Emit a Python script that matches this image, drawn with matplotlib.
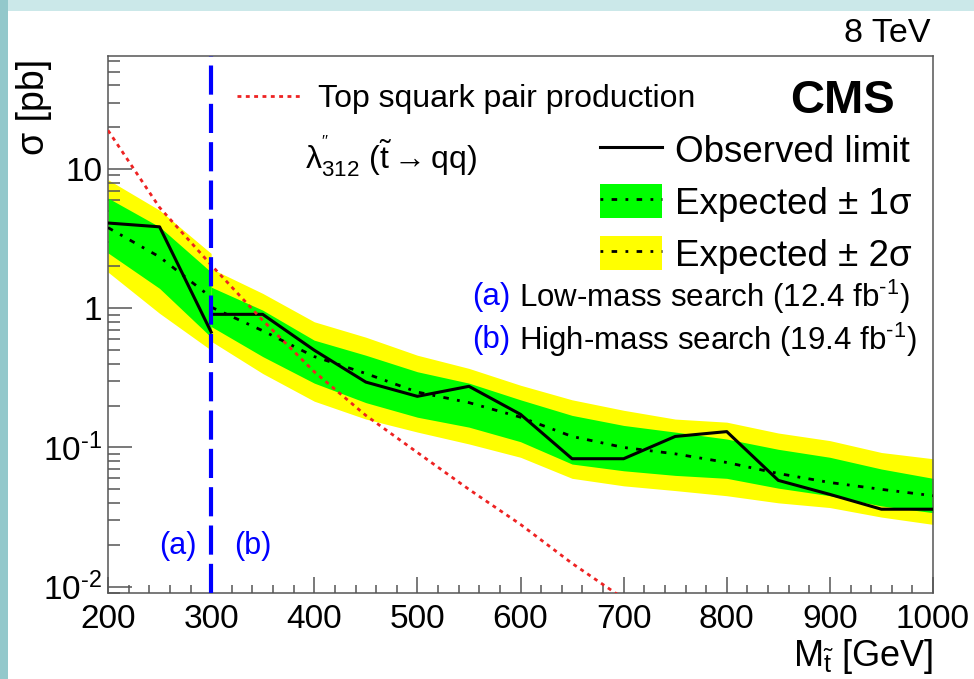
import matplotlib
matplotlib.use("Agg")
import matplotlib.pyplot as plt
from matplotlib.lines import Line2D
from matplotlib.patches import Patch, Rectangle
from matplotlib.ticker import FixedLocator, FixedFormatter, MultipleLocator, LogLocator, NullFormatter

plt.rcParams['font.family'] = ['Liberation Sans', 'DejaVu Sans']
plt.rcParams['mathtext.fontset'] = 'custom'
plt.rcParams['mathtext.rm'] = 'Liberation Sans'
plt.rcParams['mathtext.it'] = 'Liberation Sans:italic'
plt.rcParams['mathtext.bf'] = 'Liberation Sans:bold'

# ---------------- data ----------------
cut_mass = 300

mass_low = [200, 250, 300]
obs_low = [4.1, 3.85, 0.675]
exp_low = [3.8, 2.34, 1.2]
exp2_up_low = [8.4, 5.07, 2.48]
exp1_up_low = [6.2, 3.85, 1.82]
exp1_dn_low = [2.5, 1.39, 0.62]
exp2_dn_low = [1.82, 0.92, 0.50]

mass_high = [300, 350, 400, 450, 500, 550, 600, 650, 700, 750, 800, 850, 900, 950, 1000]
obs_high = [0.905, 0.905, 0.50, 0.295, 0.233, 0.275, 0.173, 0.083, 0.083, 0.12, 0.13, 0.058, 0.046, 0.036, 0.036]
exp_high = [1.02, 0.69, 0.45, 0.34, 0.25, 0.21, 0.165, 0.12, 0.10, 0.090, 0.078, 0.065, 0.056, 0.050, 0.045]
exp2_up_high = [1.93, 1.28, 0.80, 0.62, 0.46, 0.37, 0.28, 0.22, 0.185, 0.16, 0.152, 0.127, 0.112, 0.092, 0.083]
exp1_up_high = [1.42, 0.97, 0.59, 0.46, 0.35, 0.29, 0.22, 0.17, 0.144, 0.129, 0.115, 0.097, 0.085, 0.070, 0.060]
exp1_dn_high = [0.74, 0.45, 0.29, 0.21, 0.165, 0.14, 0.11, 0.076, 0.068, 0.063, 0.060, 0.051, 0.045, 0.038, 0.034]
exp2_dn_high = [0.58, 0.34, 0.215, 0.16, 0.129, 0.106, 0.085, 0.060, 0.053, 0.049, 0.045, 0.040, 0.037, 0.0316, 0.028]

mass_theory = [200, 250, 300, 350, 400, 450, 500, 550, 600, 650, 700]
xs_theory = [19.0, 5.3, 2.05, 0.82, 0.35, 0.17, 0.092, 0.050, 0.028, 0.0147, 0.0082]

x_ticks = [200, 300, 400, 500, 600, 700, 800, 900, 1000]
x_ticklabels = ["200", "300", "400", "500", "600", "700", "800", "900", "1000"]
y_ticks = [0.01, 0.1, 1, 10]
y_ticklabels = ["10$^{\\text{-2}}$", "10$^{\\text{-1}}$", "1", "10"]

GREEN = "#00ff00"
YELLOW = "#ffff00"
BLUE = "#0000ff"
RED = "#ee2222"
FRAME = "#555555"

# ---------------- figure ----------------
fig = plt.figure(figsize=(9.74, 6.79), dpi=100, facecolor="white")
# slide-like teal border
fig.patches.append(Rectangle((0, 1 - 11 / 679), 1, 11 / 679, transform=fig.transFigure,
                             facecolor="#cbe8e9", edgecolor="none", zorder=-10))
fig.patches.append(Rectangle((0, 0), 8 / 974, 1, transform=fig.transFigure,
                             facecolor="#93c8cb", edgecolor="none", zorder=-9))

ax = fig.add_axes([108 / 974, 1 - 593 / 679, 825 / 974, 537 / 679])
ax.set_yscale("log")
ax.set_xlim(200, 1000)
ax.set_ylim(0.009, 65)

for m, e2u, e1u, e1d, e2d, ex, ob in [
        (mass_low, exp2_up_low, exp1_up_low, exp1_dn_low, exp2_dn_low, exp_low, obs_low),
        (mass_high, exp2_up_high, exp1_up_high, exp1_dn_high, exp2_dn_high, exp_high, obs_high)]:
    ax.fill_between(m, e2d, e2u, color=YELLOW, linewidth=0, zorder=1)
    ax.fill_between(m, e1d, e1u, color=GREEN, linewidth=0, zorder=2)
    ax.plot(m, ex, color="black", lw=2.0, linestyle=(0, (2.0, 3, 1, 3)), zorder=3)
    ax.plot(m, ob, color="black", lw=2.2, zorder=4)

ax.plot(mass_theory, xs_theory, color=RED, lw=2.0, linestyle=(0, (1.4, 1.6)), zorder=5)
ax.axvline(cut_mass, color=BLUE, lw=3.0, linestyle=(0, (7.0, 2.2)), zorder=6)

ax.text(286, 0.0197, "(a)", color=BLUE, fontsize=22, ha="right", va="center")
ax.text(322, 0.0197, "(b)", color=BLUE, fontsize=22, ha="left", va="center")

# ---------------- axes styling ----------------
for s in ax.spines.values():
    s.set_color(FRAME)
    s.set_linewidth(1.1)
ax.xaxis.set_major_locator(FixedLocator(x_ticks))
ax.xaxis.set_major_formatter(FixedFormatter(x_ticklabels))
ax.xaxis.set_minor_locator(MultipleLocator(20))
ax.yaxis.set_major_locator(FixedLocator(y_ticks))
ax.yaxis.set_major_formatter(FixedFormatter(y_ticklabels))
ax.yaxis.set_minor_locator(LogLocator(base=10, subs=[2, 3, 4, 5, 6, 7, 8, 9], numticks=20))
ax.yaxis.set_minor_formatter(NullFormatter())
ax.tick_params(axis="x", which="major", direction="in", length=11.5, width=1.1, color=FRAME,
               labelsize=24, pad=8, top=False)
ax.tick_params(axis="x", which="minor", direction="in", length=5.8, width=1.1, color=FRAME, top=False)
ax.tick_params(axis="y", which="major", direction="in", length=17, width=1.1, color=FRAME,
               labelsize=24, pad=4, right=False)
ax.tick_params(axis="y", which="minor", direction="in", length=8.7, width=1.1, color=FRAME, right=False)

ax.set_ylabel("σ [pb]", fontsize=27, loc="top")
ax.yaxis.set_label_coords(-0.068, 0.995)
ax.set_xlabel(r"M$_{\tilde{\mathrm{t}}}$ [GeV]", fontsize=26, loc="right", labelpad=1)

# ---------------- legends / labels ----------------
h_th = Line2D([], [], color=RED, lw=2.0, linestyle=(0, (1.4, 1.6)))
leg1 = ax.legend([h_th], ["Top squark pair production"], loc="center left",
                 bbox_to_anchor=((237 - 108) / 825, (593 - 99) / 537), frameon=False,
                 fontsize=23, handlelength=1.96, handletextpad=0.56, borderpad=0, borderaxespad=0)
ax.add_artist(leg1)

h_obs = Line2D([], [], color="black", lw=2.2)
h_1s = (Patch(facecolor=GREEN, edgecolor="none"),
        Line2D([], [], color="black", lw=2.0, linestyle=(0, (1, 3, 2.0, 3))))
h_2s = (Patch(facecolor=YELLOW, edgecolor="none"),
        Line2D([], [], color="black", lw=2.0, linestyle=(0, (1, 3, 2.0, 3))))
ax.legend([h_obs, h_1s, h_2s], ["Observed limit", "Expected ± 1σ", "Expected ± 2σ"],
          loc="center left", bbox_to_anchor=((600 - 108) / 825, (593 - 203) / 537),
          frameon=False, fontsize=26.5, handlelength=1.68, handleheight=1.05,
          handletextpad=0.35, labelspacing=0.39, borderpad=0, borderaxespad=0)

ax.text((305 - 108) / 825, (593 - 157) / 537,
        r"$\mathrm{\lambda}^{''}_{312}$ ($\tilde{\mathrm{t}}\rightarrow$qq)",
        transform=ax.transAxes, fontsize=23, ha="left", va="center")
ax.text((895 - 108) / 825, (593 - 101) / 537, "CMS", transform=ax.transAxes,
        fontsize=34, fontweight="bold", ha="right", va="center")

ax.text((472 - 108) / 825, (593 - 297) / 537, "(a)", color=BLUE, transform=ax.transAxes,
        fontsize=22.5, ha="left", va="center")
ax.text((519 - 108) / 825, (593 - 297) / 537, "Low-mass search (12.4 fb$^{\\text{-1}}$)",
        transform=ax.transAxes, fontsize=22.5, ha="left", va="center")
ax.text((472 - 108) / 825, (593 - 340) / 537, "(b)", color=BLUE, transform=ax.transAxes,
        fontsize=22.5, ha="left", va="center")
ax.text((519 - 108) / 825, (593 - 340) / 537, "High-mass search (19.4 fb$^{\\text{-1}}$)",
        transform=ax.transAxes, fontsize=22.5, ha="left", va="center")

fig.text(930 / 974, 1 - 33 / 679, "8 TeV", fontsize=24.5, ha="right", va="center")

fig.savefig("out.png", dpi=100, facecolor=fig.get_facecolor())
